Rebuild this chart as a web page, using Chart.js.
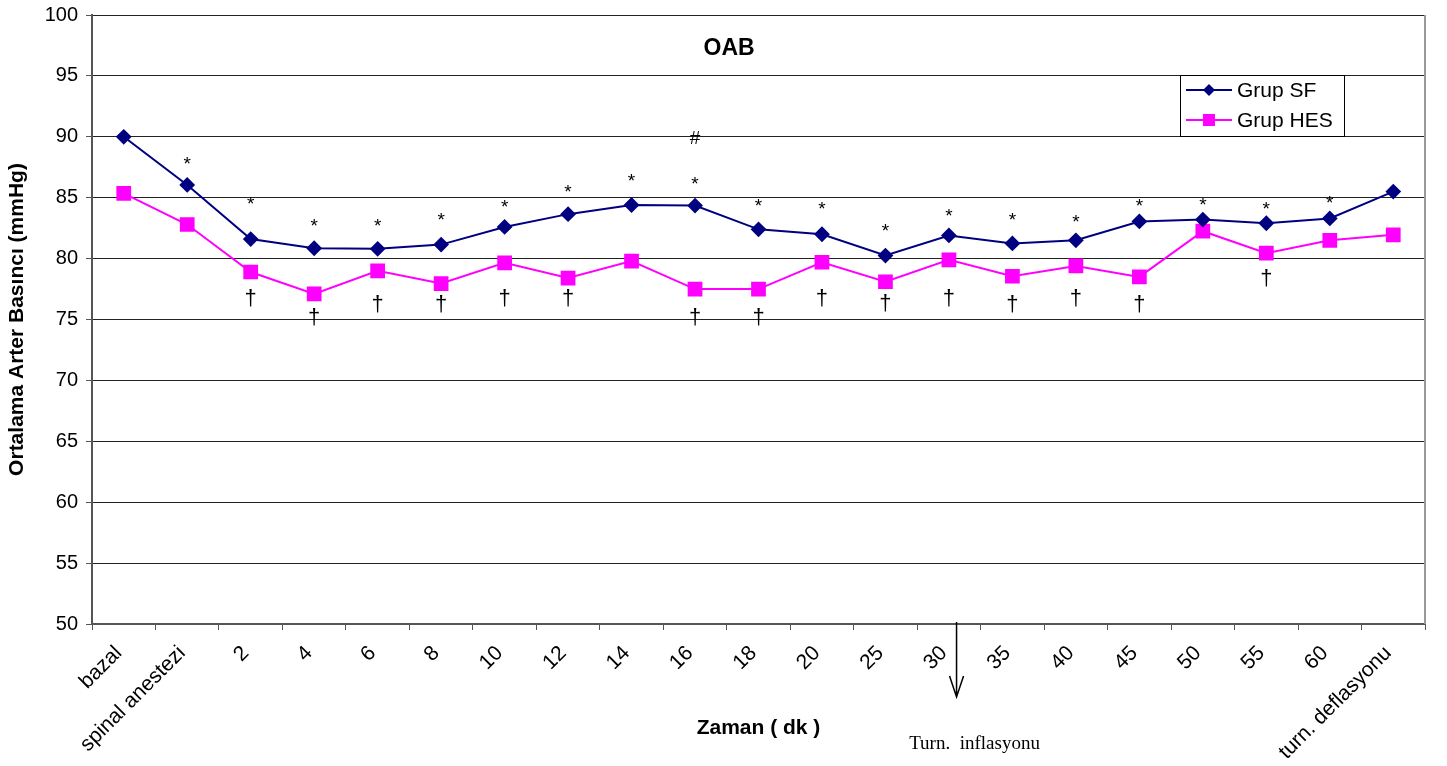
<!DOCTYPE html>
<html>
<head>
  <meta charset="UTF-8">
  <title>OAB</title>
  <script src="https://cdn.jsdelivr.net/npm/chart.js"></script>
  <style>
    body { margin: 0; background: #fff; }
    canvas { display: block; }
  </style>
</head>
<body>
  <canvas id="oabChart" width="1447" height="766"></canvas>

  <script>
    // x ekseni: zaman noktaları
    const zamanlar = ['bazal', 'spinal anestezi', '2', '4', '6', '8', '10', '12', '14', '16', '18', '20',
                      '25', '30', '35', '40', '45', '50', '55', '60', 'turn. deflasyonu'];

    // Ortalama arter basıncı (mmHg)
    const grupSF  = [90.0, 86.05, 81.6, 80.85, 80.8, 81.15, 82.6, 83.65, 84.4, 84.35, 82.4,
                     82.0, 80.25, 81.9, 81.25, 81.5, 83.05, 83.2, 82.9, 83.3, 85.5];
    const grupHES = [85.35, 82.8, 78.9, 77.1, 79.0, 77.95, 79.65, 78.4, 79.8, 77.5, 77.5,
                     79.7, 78.1, 79.9, 78.55, 79.4, 78.5, 82.25, 80.45, 81.5, 81.95];

    // y ekseni etiketleri
    const yTikler = [50, 55, 60, 65, 70, 75, 80, 85, 90, 95, 100];

    // anlamlılık işaretlerinin seviyesi (mmHg), yoksa null
    const yildizlar = [null, 87.95, 84.67, 82.8, 82.8, 83.3, 84.4, 85.65, 86.55, 86.3, 84.5,
                       84.2, 82.45, 83.7, 83.35, 83.2, 84.5, 84.6, 84.25, 84.7, null];
    const hancerler = [null, null, 76.72, 75.16, 76.15, 76.15, 76.72, 76.72, null, 75.16, 75.16,
                       76.72, 76.3, 76.72, 76.15, 76.72, 76.15, null, 78.36, null, null];
    const diyezler  = [null, null, null, null, null, null, null, null, null, 89.9, null,
                       null, null, null, null, null, null, null, null, null, null];

    const ARIAL = '"Liberation Sans", Arial, sans-serif';
    const TIMES = '"Liberation Serif", "Times New Roman", serif';

    // grafik içine çizilen ekler: başlık, lejant, işaretler, ok
    const ekler = {
      id: 'ekler',
      afterDatasetsDraw(chart) {
        const { ctx, chartArea: a, scales: { x, y } } = chart;
        ctx.save();

        // sağ çerçeve
        ctx.strokeStyle = '#999';
        ctx.lineWidth = 2;
        ctx.beginPath();
        ctx.moveTo(a.right, a.top);
        ctx.lineTo(a.right, a.bottom);
        ctx.stroke();

        // başlık
        ctx.fillStyle = '#000';
        ctx.textAlign = 'center';
        ctx.textBaseline = 'middle';
        ctx.font = 'bold 23px ' + ARIAL;
        ctx.fillText('OAB', a.left + (a.right - a.left) * 0.478, a.top + 34);

        // yıldızlar
        ctx.textBaseline = 'alphabetic';
        ctx.font = '19px ' + ARIAL;
        yildizlar.forEach((v, i) => {
          if (v !== null) ctx.fillText('*', x.getPixelForValue(i), y.getPixelForValue(v) + 8);
        });
        // hançerler
        ctx.font = '22px ' + ARIAL;
        hancerler.forEach((v, i) => {
          if (v !== null) ctx.fillText('\u2020', x.getPixelForValue(i), y.getPixelForValue(v) + 6);
        });
        ctx.font = '19px ' + ARIAL;
        diyezler.forEach((v, i) => {
          if (v !== null) ctx.fillText('#', x.getPixelForValue(i), y.getPixelForValue(v) + 6);
        });

        // turnike inflasyonu oku
        const okX = x.getPixelForValue(13.12);
        ctx.strokeStyle = '#000';
        ctx.lineWidth = 1.5;
        ctx.beginPath();
        ctx.moveTo(okX, a.bottom - 2);
        ctx.lineTo(okX, a.bottom + 73);
        ctx.moveTo(okX - 7, a.bottom + 52);
        ctx.lineTo(okX, a.bottom + 73);
        ctx.lineTo(okX + 7, a.bottom + 52);
        ctx.stroke();
        ctx.textBaseline = 'middle';
        ctx.font = '19px ' + TIMES;
        ctx.fillText('Turn.  inflasyonu', okX + 18, a.bottom + 120);

        // lejant
        const lx = a.right - 245, ly = a.top + 60;
        ctx.fillStyle = '#fff';
        ctx.fillRect(lx, ly, 164, 61);
        ctx.strokeStyle = '#000';
        ctx.lineWidth = 1;
        ctx.strokeRect(lx + 0.5, ly + 0.5, 164, 61);
        const satirlar = [
          { ad: 'Grup SF', renk: '#000080', sekil: 'elmas' },
          { ad: 'Grup HES', renk: '#FF00FF', sekil: 'kare' }
        ];
        satirlar.forEach((s, k) => {
          const cy = ly + 15 + k * 30;
          const mx = lx + 29;
          ctx.strokeStyle = s.renk;
          ctx.fillStyle = s.renk;
          ctx.lineWidth = 2;
          ctx.beginPath();
          ctx.moveTo(lx + 6, cy);
          ctx.lineTo(lx + 52, cy);
          ctx.stroke();
          ctx.beginPath();
          if (s.sekil === 'elmas') {
            ctx.moveTo(mx, cy - 6); ctx.lineTo(mx + 6, cy); ctx.lineTo(mx, cy + 6); ctx.lineTo(mx - 6, cy);
            ctx.closePath();
          } else {
            ctx.rect(mx - 6, cy - 6, 12, 12);
          }
          ctx.fill();
          ctx.fillStyle = '#000';
          ctx.textAlign = 'left';
          ctx.font = '21px ' + ARIAL;
          ctx.fillText(s.ad, lx + 57, cy + 1);
        });

        ctx.restore();
      }
    };

    new Chart(document.getElementById('oabChart'), {
      type: 'line',
      data: {
        labels: zamanlar,
        datasets: [
          {
            label: 'Grup SF',
            data: grupSF,
            borderColor: '#000080',
            backgroundColor: '#000080',
            borderWidth: 2,
            pointStyle: 'rectRot',
            pointRadius: 6.5,
            tension: 0
          },
          {
            label: 'Grup HES',
            data: grupHES,
            borderColor: '#FF00FF',
            backgroundColor: '#FF00FF',
            borderWidth: 2,
            pointStyle: 'rect',
            pointRadius: 9,
            tension: 0
          }
        ]
      },
      options: {
        responsive: false,
        animation: false,
        layout: { padding: { top: 15, right: 22, bottom: 0, left: 0 } },
        plugins: {
          legend: { display: false },
          tooltip: { enabled: false }
        },
        scales: {
          x: {
            offset: true,
            grid: { offset: true, drawOnChartArea: false, drawTicks: true, tickLength: 6, color: '#555' },
            border: { color: '#555', width: 2 },
            ticks: { autoSkip: false, minRotation: 45, maxRotation: 45, padding: 11, labelOffset: -5,
                     color: '#000', font: { family: ARIAL, size: 21 } },
            title: { display: true, text: 'Zaman ( dk )', color: '#000', padding: { top: 0, bottom: 25 },
                     font: { family: ARIAL, size: 21, weight: 'bold' } },
            afterFit(s) { s.height = 142; s.paddingLeft = 0; s.paddingRight = 0; }
          },
          y: {
            min: 50,
            max: 100,
            afterBuildTicks(s) { s.ticks = yTikler.map(v => ({ value: v })); },
            grid: { color: '#222', lineWidth: 1, tickLength: 6, tickColor: '#555' },
            border: { color: '#555', width: 2 },
            ticks: { padding: 8, color: '#000', font: { family: ARIAL, size: 20 } },
            title: { display: true, text: 'Ortalama Arter Basıncı (mmHg)', color: '#000',
                     padding: { top: 5, bottom: 0 },
                     font: { family: ARIAL, size: 21, weight: 'bold' } },
            afterFit(s) { s.width = 92; s.paddingTop = 0; s.paddingBottom = 0; }
          }
        }
      },
      plugins: [ekler]
    });
  </script>
</body>
</html>
